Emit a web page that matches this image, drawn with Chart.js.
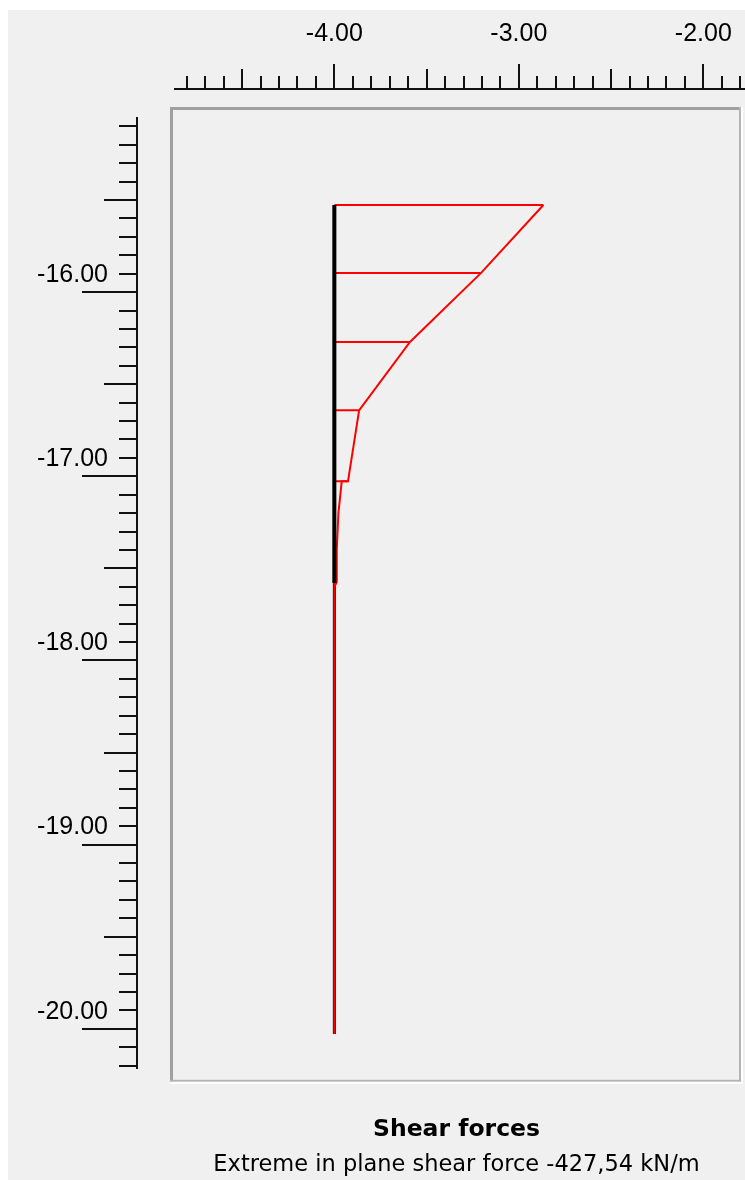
<!DOCTYPE html>
<html>
<head>
<meta charset="utf-8">
<script src="https://cdn.jsdelivr.net/npm/chart.js@4.4.1/dist/chart.umd.min.js"></script>
<style>
html, body { margin: 0; padding: 0; background: #f0f0f0; }
canvas { display: block; }
</style>
</head>
<body>
<canvas id="shearChart" width="745" height="1180"></canvas>
<script>
// pile geometry (m)
var pileX = -4.0;
var pileTop = -15.527;
var pileBottom = -20.028;
var plateBottom = -17.58;

// node levels and the end of each hatch line (shear drawn onto the x axis)
var nodeLevels = [-15.527, -15.897, -16.271, -16.642, -17.027, -17.397];
var hatchEnds = [-2.867, -3.206, -3.590, -3.866, -3.926, -3.987];

// outline of the shear diagram
var outlineX = [-2.867, -3.206, -3.590, -3.866, -3.926, -3.960, -3.978, -3.987, -3.987, -4.0];
var outlineY = [-15.527, -15.897, -16.271, -16.642, -17.027, -17.027, -17.20, -17.397, -17.576, -17.60];

// axes
var xTicks = [-4, -3, -2];
var xTickLabels = ['-4.00', '-3.00', '-2.00'];
var yTicks = [-16, -17, -18, -19, -20];
var yTickLabels = ['-16.00', '-17.00', '-18.00', '-19.00', '-20.00'];
var xRange = [-4.880, -1.796];
var yRange = [-20.288, -14.995];
var xRuler = [-4.869, -1.70];
var yRuler = [-15.048, -20.217];

function seg(x1, y1, x2, y2) {
    return [{x: x1, y: y1}, {x: x2, y: y2}];
}

var hatchData = [];
nodeLevels.forEach(function (d, i) {
    hatchData.push({x: pileX, y: d}, {x: hatchEnds[i], y: d}, {x: null, y: null});
});

var outlineData = outlineX.map(function (x, i) { return {x: x, y: outlineY[i]}; });

// background, frame and the ruler axes
var rulers = {
    id: 'rulers',
    beforeDraw: function (chart) {
        var c = chart.ctx, a = chart.chartArea, w = chart.width, h = chart.height;
        var xs = chart.scales.x, ys = chart.scales.y;
        c.save();
        c.fillStyle = '#f0f0f0';
        c.fillRect(0, 0, w, h);
        c.fillStyle = '#ffffff';
        c.fillRect(0, 0, w, 10);
        c.fillRect(0, 0, 8, h);

        // sunken frame
        c.fillStyle = '#a0a0a0';
        c.fillRect(a.left - 2, a.top, 3, a.bottom - a.top);
        c.fillRect(a.left - 2, a.top, a.right - a.left + 2, 3);
        c.fillStyle = '#b4b4b4';
        c.fillRect(a.left - 2, a.bottom - 2, a.right - a.left + 2, 2);
        c.fillRect(a.right - 2, a.top, 2, a.bottom - a.top);
        c.fillStyle = '#ffffff';
        c.fillRect(a.left - 2, a.bottom, a.right - a.left + 4, 2);
        c.fillRect(a.right, a.top, 2, a.bottom - a.top + 2);

        c.strokeStyle = '#111';
        c.lineWidth = 2;
        c.beginPath();
        // top ruler
        var ty = a.top - 18;
        c.moveTo(Math.round(xs.getPixelForValue(xRuler[0])), ty);
        c.lineTo(Math.round(xs.getPixelForValue(xRuler[1])), ty);
        for (var i = Math.ceil(xRuler[0] * 10); i <= Math.floor(xRuler[1] * 10); i++) {
            var px = Math.round(xs.getPixelForValue(i / 10));
            var len = (i % 10 === 0) ? 25 : (i % 5 === 0 ? 20 : 13);
            c.moveTo(px, ty);
            c.lineTo(px, ty - len);
        }
        // left ruler
        var lx = a.left - 35;
        c.moveTo(lx, Math.round(ys.getPixelForValue(yRuler[0])));
        c.lineTo(lx, Math.round(ys.getPixelForValue(yRuler[1])));
        for (var j = Math.ceil(yRuler[1] * 10); j <= Math.floor(yRuler[0] * 10); j++) {
            var py = Math.round(ys.getPixelForValue(j / 10));
            var l2 = (j % 10 === 0) ? 55 : (j % 5 === 0 ? 33 : 18);
            c.moveTo(lx, py);
            c.lineTo(lx - l2, py);
        }
        c.stroke();
        c.restore();
    }
};

var ctx = document.getElementById('shearChart').getContext('2d');
var shearChart = new Chart(ctx, {
    type: 'scatter',
    data: {
        datasets: [{
            label: 'Plate',
            data: seg(pileX, pileTop, pileX, plateBottom),
            showLine: true,
            borderColor: '#000000',
            borderWidth: 4,
            pointRadius: 0,
            order: 1
        }, {
            label: 'Shear outline',
            data: outlineData,
            showLine: true,
            borderColor: '#ff0000',
            borderWidth: 2,
            pointRadius: 0,
            order: 2
        }, {
            label: 'Shear hatch',
            data: hatchData,
            showLine: true,
            spanGaps: false,
            borderColor: '#ff0000',
            borderWidth: 2,
            pointRadius: 0,
            order: 2
        }, {
            label: 'Baseline',
            data: seg(pileX, pileTop, pileX, pileBottom),
            showLine: true,
            borderColor: '#ff0000',
            borderWidth: 2,
            pointRadius: 0,
            order: 3
        }, {
            label: 'Pile',
            data: seg(pileX, pileTop, pileX, pileBottom),
            showLine: true,
            borderColor: '#000000',
            borderWidth: 3,
            pointRadius: 0,
            order: 4
        }]
    },
    options: {
        responsive: false,
        animation: false,
        devicePixelRatio: 1,
        layout: { autoPadding: false, padding: { top: 0, left: 0, right: 4, bottom: 0 } },
        scales: {
            x: {
                type: 'linear',
                position: 'top',
                min: xRange[0],
                max: xRange[1],
                grid: { display: false, drawTicks: true, tickLength: 58 },
                border: { display: false },
                afterBuildTicks: function (scale) {
                    scale.ticks = xTicks.map(function (v) { return {value: v}; });
                },
                afterFit: function (scale) { scale.height = 107; },
                ticks: {
                    padding: 0,
                    autoSkip: false,
                    maxRotation: 0,
                    color: '#000',
                    font: { family: 'Liberation Sans', size: 25 },
                    callback: function (v) { return xTickLabels[xTicks.indexOf(v)]; }
                }
            },
            y: {
                type: 'linear',
                position: 'left',
                min: yRange[0],
                max: yRange[1],
                grid: { display: false, drawTicks: true, tickLength: 64 },
                border: { display: false },
                afterBuildTicks: function (scale) {
                    scale.ticks = yTicks.map(function (v) { return {value: v}; });
                },
                afterFit: function (scale) { scale.width = 172; },
                ticks: {
                    padding: 0,
                    labelOffset: -17,
                    autoSkip: false,
                    color: '#000',
                    font: { family: 'Liberation Sans', size: 25 },
                    callback: function (v) { return yTickLabels[yTicks.indexOf(v)]; }
                }
            }
        },
        plugins: {
            legend: { display: false },
            tooltip: { enabled: false },
            title: {
                display: true,
                text: 'Shear forces',
                position: 'bottom',
                fullSize: false,
                weight: 1000,
                color: '#000',
                font: { family: 'DejaVu Sans', size: 23.5, weight: 'bold' },
                padding: { top: 34, bottom: 0 }
            },
            subtitle: {
                display: true,
                text: 'Extreme in plane shear force -427,54 kN/m',
                position: 'bottom',
                fullSize: false,
                weight: 2000,
                color: '#000',
                font: { family: 'DejaVu Sans', size: 22.5 },
                padding: { top: 8, bottom: 1 }
            }
        }
    },
    plugins: [rulers]
});
</script>
</body>
</html>
